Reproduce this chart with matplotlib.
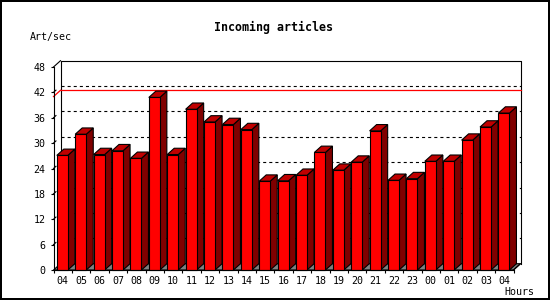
import matplotlib
matplotlib.use("Agg")
import matplotlib.pyplot as plt
from matplotlib.patches import Polygon, Rectangle

# ---- data ----
hours = ["04", "05", "06", "07", "08", "09", "10", "11", "12", "13", "14", "15",
         "16", "17", "18", "19", "20", "21", "22", "23", "00", "01", "02", "03", "04"]
art_per_sec = [27.1, 32.1, 27.3, 28.2, 26.4, 40.8, 27.3, 38.0, 35.0, 34.4, 33.2, 21.0,
               21.1, 22.4, 27.8, 23.6, 25.5, 32.9, 21.2, 21.6, 25.7, 25.7, 30.7, 33.8, 37.1]
max_line = 41.0
y_ticks = [0, 6, 12, 18, 24, 30, 36, 42, 48]
title = "Incoming articles"
y_label = "Art/sec"
x_label = "Hours"

# ---- style ----
W, H = 550, 300
plt.rcParams['lines.scale_dashes'] = False
FONT = "DejaVu Sans Mono"
FS = 7.2

fig = plt.figure(figsize=(W / 100, H / 100), dpi=100)
fig.patch.set_facecolor("white")

# outer border (1px inside the image)
fig.add_artist(Rectangle((0.5 / W, 0.5 / H), 1 - 1.0 / W, 1 - 1.0 / H,
                         transform=fig.transFigure, fill=False,
                         ec="black", lw=1.0, antialiased=False, snap=False))

x0, x1 = 53.5, 513.5
y0, y1 = 270, 67
ax = fig.add_axes([x0 / W, 1 - y0 / H, (x1 - x0) / W, (y0 - y1) / H])
n = len(hours)
ymax = y_ticks[-1]
ax.set_xlim(0, n)
ax.set_ylim(0, ymax)
ax.set_facecolor("none")

ppx = (x1 - x0) / n          # pixels per category
ppy = (y0 - y1) / ymax       # pixels per unit
dx = 7.0 / ppx
dy = 6.3 / ppy

for s in ["top", "right"]:
    ax.spines[s].set_visible(False)
for s in ["left", "bottom"]:
    ax.spines[s].set_linewidth(0.8)
    ax.spines[s].set_zorder(5)

# floor
ax.add_patch(Polygon([(0, 0), (n, 0), (n + dx, dy), (dx, dy)], closed=True,
                     fc="#808080", ec="black", lw=0.8, clip_on=False, zorder=1))
# back panel edges
ax.plot([dx, dx, n + dx, n + dx], [dy, ymax + dy, ymax + dy, dy], color="black",
        lw=0.8, clip_on=False, zorder=2)
ax.plot([0, dx], [ymax, ymax + dy], color="black", lw=0.8, clip_on=False, zorder=2)
ax.plot([n, n + dx], [0, dy], color="black", lw=0.8, clip_on=False, zorder=2)

# grid lines on back panel
for v in y_ticks[1:-1]:
    ax.plot([dx, n + dx], [v + dy, v + dy], color="black", lw=0.8,
            dashes=(2.2, 2.2), clip_on=False, zorder=2)
    ax.plot([0, dx * 0.35], [v, v + dy * 0.35], color="black", lw=0.8,
            clip_on=False, zorder=2)

# max line
ax.plot([dx, n + dx], [max_line + dy, max_line + dy], color="red", lw=0.9,
        clip_on=False, zorder=2)
ax.plot([0, dx], [max_line, max_line + dy], color="red", lw=0.9,
        clip_on=False, zorder=2)

# bars
off, bw = 0.18, 0.6
for i, v in enumerate(art_per_sec):
    xl = i + off
    xr = xl + bw
    ax.add_patch(Polygon([(xr, 0), (xr + dx, dy), (xr + dx, v + dy), (xr, v)],
                         closed=True, fc="#800000", ec="black", lw=0.8,
                         clip_on=False, zorder=3))
    ax.add_patch(Polygon([(xl, v), (xr, v), (xr + dx, v + dy), (xl + dx, v + dy)],
                         closed=True, fc="#C00000", ec="black", lw=0.8,
                         clip_on=False, zorder=3))
    ax.bar([xl], [v], width=bw, align="edge", color="#FF0000", edgecolor="black",
           linewidth=0.8, zorder=4, clip_on=False)

# ticks
ax.set_yticks(y_ticks)
ax.set_yticklabels([str(t) for t in y_ticks], fontfamily=FONT, fontsize=FS)
ax.tick_params(axis="y", direction="out", length=2.2, width=0.8, pad=3.4)
ax.set_xticks(range(n + 1))
ax.set_xticklabels([])
ax.set_xticks([i + 0.5 for i in range(n)], minor=True)
ax.set_xticklabels(hours, minor=True, fontfamily=FONT, fontsize=FS)
ax.tick_params(axis="x", which="major", direction="out", length=2.5, width=0.8)
ax.tick_params(axis="x", which="minor", length=0, pad=4.0)

# texts
fig.text(274 / W, 1 - 27 / H, title, ha="center", va="center",
         fontfamily=FONT, fontsize=8.4, fontweight="bold")
fig.text(30 / W, 1 - 37 / H, y_label, ha="left", va="center",
         fontfamily=FONT, fontsize=FS)
fig.text(504 / W, 1 - 292 / H, x_label, ha="left", va="center",
         fontfamily=FONT, fontsize=FS)

fig.savefig("out.png", dpi=100, facecolor=fig.get_facecolor())
